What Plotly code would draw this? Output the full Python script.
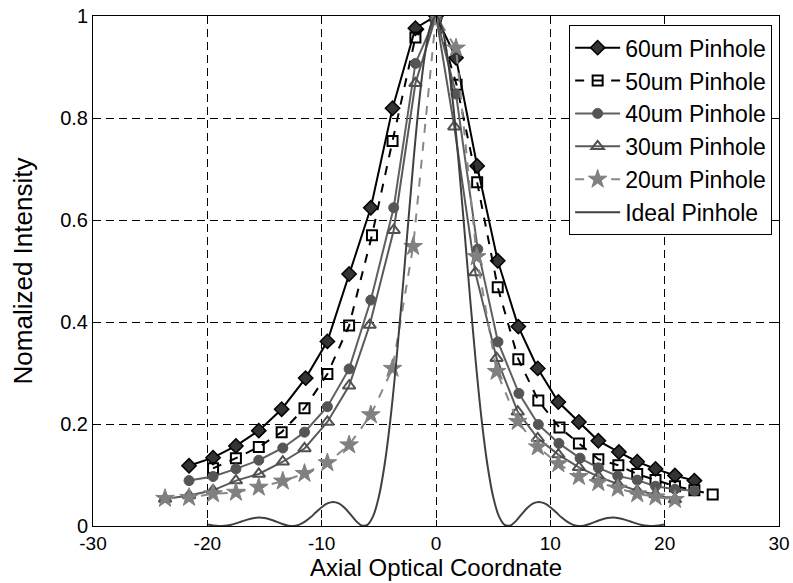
import plotly.graph_objects as go

# ---- data ----
x60 = [-21.6, -19.5, -17.5, -15.5, -13.5, -11.4, -9.5, -7.6, -5.7, -3.8, -1.8, 0,
       1.75, 3.6, 5.4, 7.2, 8.9, 10.7, 12.5, 14.2, 16.0, 17.6, 19.2, 20.9, 22.6]
y60 = [0.118, 0.134, 0.157, 0.187, 0.229, 0.29, 0.362, 0.494, 0.624, 0.819, 0.976, 1.0,
       0.918, 0.706, 0.52, 0.391, 0.309, 0.243, 0.204, 0.167, 0.145, 0.126, 0.112, 0.099, 0.089]

x50 = [-19.5, -17.5, -15.5, -13.5, -11.5, -9.5, -7.6, -5.6, -3.8, -1.8, 0,
       1.8, 3.6, 5.4, 7.2, 8.95, 10.8, 12.5, 14.2, 15.95, 17.6, 19.2, 20.9, 22.6, 24.2]
y50 = [0.113, 0.133, 0.155, 0.184, 0.231, 0.298, 0.393, 0.57, 0.755, 0.958, 1.0,
       0.865, 0.674, 0.468, 0.327, 0.246, 0.193, 0.162, 0.131, 0.119, 0.102, 0.09, 0.078, 0.07, 0.062]

x40 = [-21.6, -19.5, -17.5, -15.5, -13.4, -11.5, -9.5, -7.6, -5.7, -3.7, -1.8, 0,
       1.75, 3.65, 5.42, 7.25, 8.95, 10.75, 12.6, 14.2, 15.9, 17.6, 19.2, 20.9, 22.6]
y40 = [0.089, 0.097, 0.112, 0.129, 0.153, 0.184, 0.234, 0.308, 0.443, 0.624, 0.907, 1.0,
       0.847, 0.543, 0.361, 0.26, 0.199, 0.162, 0.133, 0.114, 0.098, 0.09, 0.078, 0.072, 0.069]

x30 = [-23.7, -21.6, -19.5, -17.5, -15.5, -13.4, -11.5, -9.5, -7.6, -5.8, -3.7, -1.8, 0,
       1.6, 3.44, 5.3, 7.15, 8.9, 10.7, 12.5, 14.2, 15.9, 17.6, 19.2, 20.9]
y30 = [0.053, 0.06, 0.07, 0.089, 0.102, 0.126, 0.152, 0.204, 0.275, 0.394, 0.58, 0.868, 1.0,
       0.783, 0.497, 0.329, 0.224, 0.172, 0.14, 0.115, 0.097, 0.082, 0.069, 0.062, 0.052]

x20 = [-23.7, -21.6, -19.5, -17.5, -15.5, -13.4, -11.5, -9.5, -7.6, -5.7, -3.8, -2.0, 0,
       1.75, 3.56, 5.3, 7.15, 8.9, 10.7, 12.5, 14.2, 15.9, 17.6, 19.2, 20.9]
y20 = [0.054, 0.056, 0.063, 0.066, 0.076, 0.088, 0.103, 0.124, 0.159, 0.218, 0.309, 0.548, 1.0,
       0.937, 0.528, 0.303, 0.205, 0.155, 0.122, 0.097, 0.085, 0.074, 0.063, 0.057, 0.052]

x_ideal = [-20.0, -19.5, -19.0, -18.5, -18.0, -17.5, -17.0, -16.5, -16.0, -15.5, -15.0, -14.5,
           -14.0, -13.5, -13.0, -12.5, -12.0, -11.5, -11.0, -10.5, -10.0, -9.5, -9.0, -8.5,
           -8.0, -7.5, -7.0, -6.5, -6.0, -5.5, -5.0, -4.5, -4.0, -3.5, -3.0, -2.5, -2.0, -1.5,
           -1.0, -0.5, 0.0, 0.5, 1.0, 1.5, 2.0, 2.5, 3.0, 3.5, 4.0, 4.5, 5.0, 5.5, 6.0, 6.5,
           7.0, 7.5, 8.0, 8.5, 9.0, 9.5, 10.0, 10.5, 11.0, 11.5, 12.0, 12.5, 13.0, 13.5, 14.0,
           14.5, 15.0, 15.5, 16.0, 16.5, 17.0, 17.5, 18.0, 18.5, 19.0, 19.5, 20.0]
y_ideal = [0.003, 0.0011, 0.0001, 0.0004, 0.0021, 0.0051, 0.0088, 0.0125, 0.0153, 0.0165, 0.0156,
           0.0129, 0.0088, 0.0044, 0.0011, 0.0000, 0.0022, 0.0079, 0.0165, 0.0268, 0.0368,
           0.0443, 0.0472, 0.0443, 0.0358, 0.0232, 0.0100, 0.0011, 0.0022, 0.0193, 0.0573,
           0.1196, 0.2067, 0.3162, 0.4422, 0.5764, 0.7081, 0.8261, 0.9194, 0.9793, 1.0,
           0.9793, 0.9194, 0.8261, 0.7081, 0.5764, 0.4422, 0.3162, 0.2067, 0.1196, 0.0573,
           0.0193, 0.0022, 0.0011, 0.0100, 0.0232, 0.0358, 0.0443, 0.0472, 0.0443, 0.0368,
           0.0268, 0.0165, 0.0079, 0.0022, 0.0000, 0.0011, 0.0044, 0.0088, 0.0129, 0.0156,
           0.0165, 0.0153, 0.0125, 0.0088, 0.0051, 0.0021, 0.0004, 0.0001, 0.0011, 0.003]

x_ticks = [-30, -20, -10, 0, 10, 20, 30]
y_ticks = [0, 0.2, 0.4, 0.6, 0.8, 1]

fig = go.Figure()

fig.add_trace(go.Scatter(x=x60, y=y60, name="60um Pinhole", mode="lines+markers",
                         line=dict(color="#000000", width=2),
                         marker=dict(symbol="diamond", size=11, color="#333333",
                                     line=dict(color="#000000", width=1.5))))
fig.add_trace(go.Scatter(x=x50, y=y50, name="50um Pinhole", mode="lines+markers",
                         line=dict(color="#000000", width=2, dash="dash"),
                         marker=dict(symbol="square-open", size=10, color="#000000",
                                     line=dict(color="#000000", width=2))))
fig.add_trace(go.Scatter(x=x40, y=y40, name="40um Pinhole", mode="lines+markers",
                         line=dict(color="#606060", width=2),
                         marker=dict(symbol="circle", size=10, color="#555555",
                                     line=dict(color="#555555", width=1))))
fig.add_trace(go.Scatter(x=x30, y=y30, name="30um Pinhole", mode="lines+markers",
                         line=dict(color="#595959", width=2),
                         marker=dict(symbol="triangle-up-open", size=11, color="#505050",
                                     line=dict(color="#505050", width=2))))
fig.add_trace(go.Scatter(x=x20, y=y20, name="20um Pinhole", mode="lines+markers",
                         line=dict(color="#888888", width=2, dash="dash"),
                         marker=dict(symbol="star", size=14, color="#808080",
                                     line=dict(color="#808080", width=1))))
fig.add_trace(go.Scatter(x=x_ideal, y=y_ideal, name="Ideal Pinhole", mode="lines",
                         line=dict(color="#404040", width=2, shape="spline")))

axis_common = dict(
    showline=True, linecolor="#000000", linewidth=1, mirror="ticks",
    ticks="inside", ticklen=6, tickcolor="#000000",
    showgrid=True, gridcolor="#000000", gridwidth=1, griddash="8px,5px",
    zeroline=False,
)

fig.update_xaxes(
    **axis_common, range=[-30, 30], tickvals=x_ticks, ticktext=[str(v) for v in x_ticks],
    tickfont=dict(family="Liberation Sans, Arial", size=19, color="#000000"),
    title=dict(text="Axial Optical Coordnate", standoff=0,
               font=dict(family="Liberation Sans, Arial", size=24, color="#000000")),
)
fig.update_yaxes(
    **axis_common, range=[0, 1], tickvals=y_ticks,
    ticktext=["0", "0.2", "0.4", "0.6", "0.8", "1"],
    tickfont=dict(family="Liberation Sans, Arial", size=20, color="#000000"),
    title=dict(text="Nomalized Intensity", standoff=20,
               font=dict(family="Liberation Sans, Arial", size=26, color="#000000")),
)

fig.update_layout(
    width=793, height=583,
    margin=dict(l=93, r=14, t=16, b=57, autoexpand=False),
    paper_bgcolor="#ffffff", plot_bgcolor="#ffffff",
    showlegend=True,
    legend=dict(x=0.99, y=0.982, xanchor="right", yanchor="top",
                bgcolor="#ffffff", bordercolor="#000000", borderwidth=1,
                font=dict(family="Liberation Sans, Arial", size=23, color="#000000"),
                itemwidth=45, tracegroupgap=0),
)

fig.write_html("out.html")
